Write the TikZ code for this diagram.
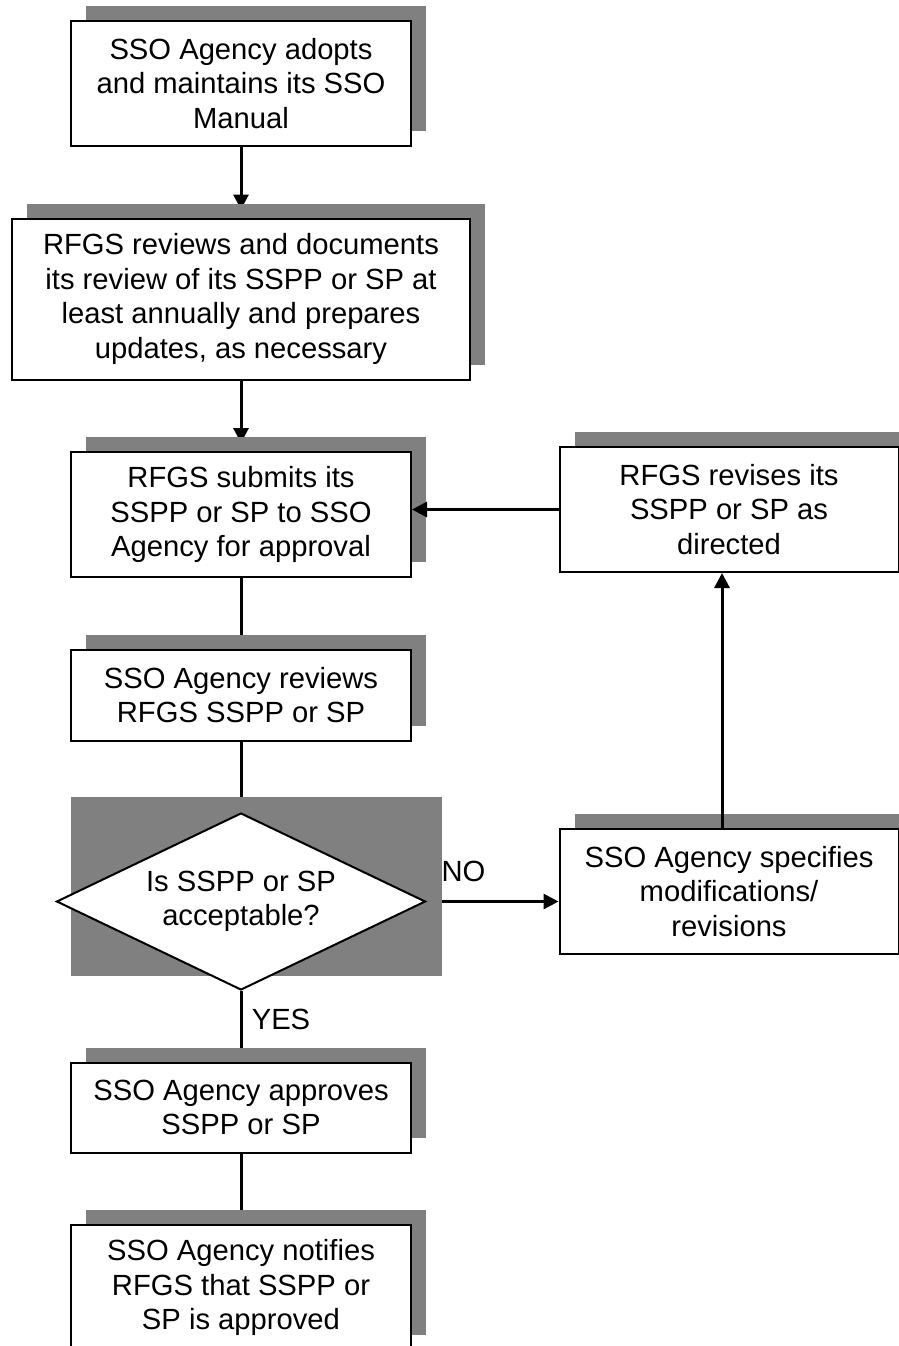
\documentclass[tikz,border=0pt]{standalone}
\usepackage{fontspec}
\setmainfont{Liberation Sans}
\usetikzlibrary{positioning,shapes.geometric,shadows,arrows.meta,calc}
\pgfdeclarelayer{background}
\pgfsetlayers{background,main}
\begin{document}
\begin{tikzpicture}[
x=1pt,y=-1pt,
node distance=70.5pt,
font=\fontsize{29.2}{34.5}\selectfont,
stepbox/.style={draw,fill=white,line width=2pt,align=center,inner sep=0pt,
	minimum width=340pt,minimum height=125pt,
	drop shadow={shadow xshift=15pt,shadow yshift=15pt,fill=gray,opacity=1}},
decision/.style={diamond,aspect=2.08,draw,fill=white,line width=2pt,align=center,inner sep=0pt,
	minimum width=369pt,minimum height=177pt},
link/.style={line width=3pt},
arrowlink/.style={link,-{Triangle[length=15pt,width=15pt]}},
lbl/.style={inner sep=0pt}
]
\useasboundingbox (0,0) rectangle (899,1346);
% main column
\node[stepbox] (adopt) at (241,83.5) {SSO Agency adopts\\and maintains its SSO\\Manual};
\node[stepbox,minimum width=458pt,minimum height=161pt,below=of adopt] (review) {RFGS reviews and documents\\its review of its SSPP or SP at\\least annually and prepares\\updates, as necessary};
\node[stepbox,below=of review] (submit) {RFGS submits its\\SSPP or SP to SSO\\Agency for approval};
\node[stepbox,minimum height=91pt,below=of submit] (agencyreview) {SSO Agency reviews\\RFGS SSPP or SP};
\node[decision,below=of agencyreview] (ok) {Is SSPP or SP\\acceptable?};
\node[stepbox,minimum height=90pt,below=of ok] (approve) {SSO Agency approves\\SSPP or SP};
\node[stepbox,below=of approve] (notify) {SSO Agency notifies\\RFGS that SSPP or\\SP is approved};
% right column
\node[stepbox,minimum width=339pt,right=132pt of ok,yshift=10pt] (specify) {SSO Agency specifies\\modifications/\\revisions};
\node[stepbox,minimum width=339pt,above=255pt of specify] (revise) {RFGS revises its\\SSPP or SP as\\directed};
% labels
\node[lbl] (no) at ([xshift=37pt,yshift=30pt]ok.east) {NO};
\node[lbl] (yes) at ([xshift=40pt,yshift=-28pt]ok.south) {YES};
% connectors
\draw[arrowlink] (revise.west) -- (revise.west -| submit.east);
\draw[arrowlink] ([xshift=-7pt]specify.north) -- ([xshift=-7pt]revise.south);
\begin{pgfonlayer}{background}
\draw[arrowlink,shorten >=8pt] (adopt) -- (review);
\draw[arrowlink,shorten >=8pt] (review) -- (submit);
\draw[link] (submit) -- (agencyreview);
\draw[link] (agencyreview) -- (ok);
\draw[arrowlink] (ok.east) -- (ok.east -| specify.west);
\draw[link] (ok) -- (approve);
\draw[link] (approve) -- (notify);
\fill[gray] ($(ok.west |- ok.north)+(15,-15)$) rectangle ($(ok.east |- ok.south)+(15,-15)$);
\end{pgfonlayer}
\end{tikzpicture}
\end{document}
